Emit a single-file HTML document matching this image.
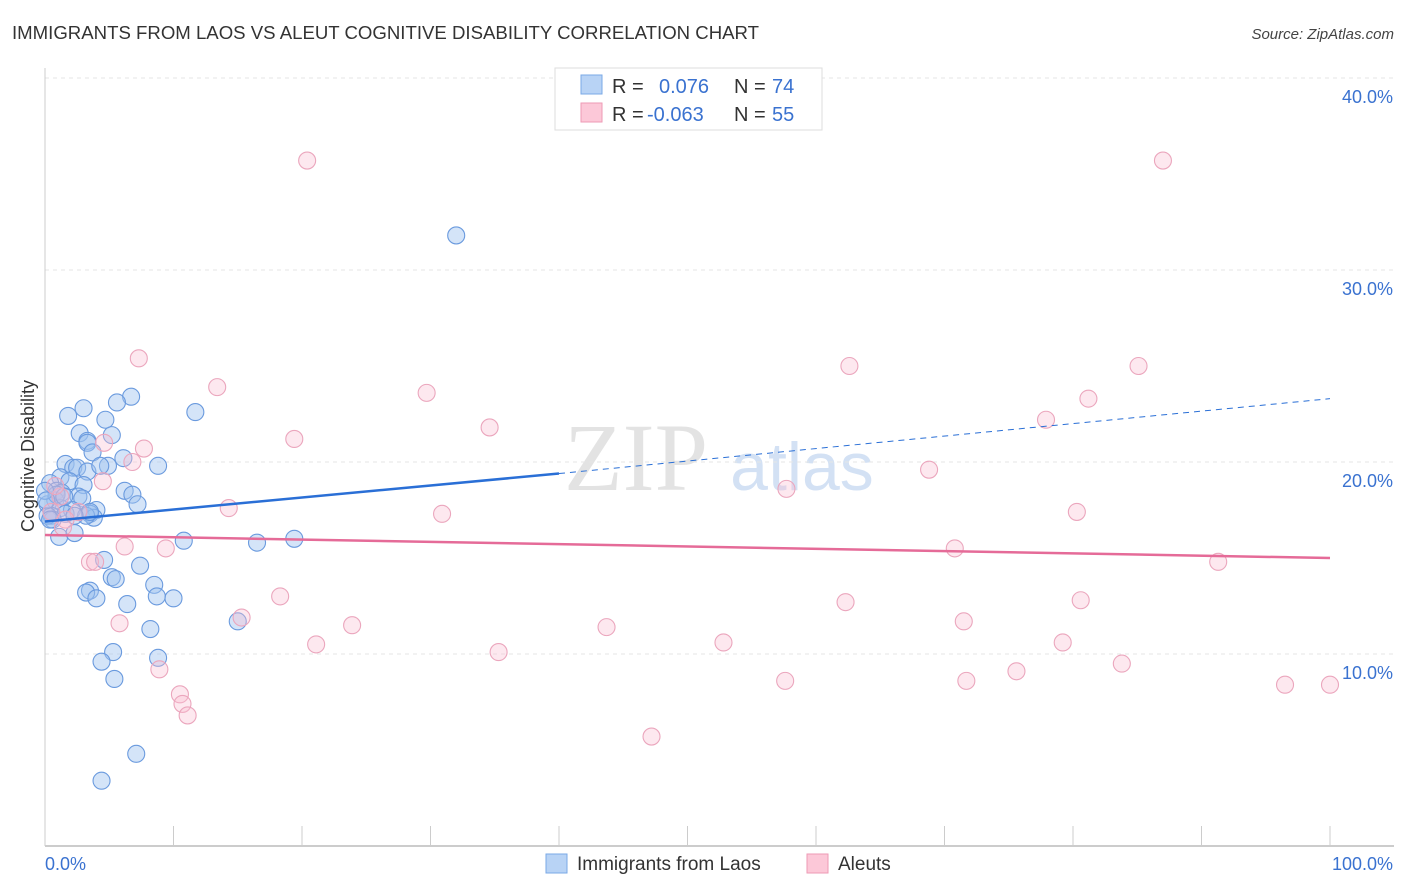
<!DOCTYPE html>
<html><head><meta charset="utf-8"><style>
body{margin:0;background:#fff;font-family:"Liberation Sans",sans-serif}
svg{display:block}
</style></head><body>
<svg id="chart" width="1406" height="892" xmlns="http://www.w3.org/2000/svg">
<text x="12" y="39" font-size="18" fill="#333" textLength="747" lengthAdjust="spacingAndGlyphs">IMMIGRANTS FROM LAOS VS ALEUT COGNITIVE DISABILITY CORRELATION CHART</text>
<text x="1394" y="39" font-size="15" fill="#444" font-style="italic" text-anchor="end">Source: ZipAtlas.com</text>
<text transform="translate(34,456) rotate(-90)" font-size="18" fill="#333" text-anchor="middle">Cognitive Disability</text>
<g>
<text x="636" y="490" font-size="96" fill="#ddd" font-family="Liberation Serif" text-anchor="middle" opacity="0.8">ZIP</text>
<text x="802" y="490" font-size="68" fill="#c9daf2" text-anchor="middle" opacity="0.8">atlas</text>
</g>
<g id="grid"></g><g id="axes"></g><g id="pts"></g><g id="lines"></g>
<g>
<rect x="555" y="68" width="267" height="62" fill="#fff" stroke="#ddd"/>
<rect x="581" y="75" width="21" height="19" fill="#b8d3f5" stroke="#7aa8e6"/>
<rect x="581" y="103" width="21" height="19" fill="#fcc8d8" stroke="#ee9ab5"/>
<text x="612" y="93" font-size="20" fill="#333">R =</text>
<text x="659" y="93" font-size="20" fill="#3a72d0">0.076</text>
<text x="734" y="93" font-size="20" fill="#333">N =</text>
<text x="772" y="93" font-size="20" fill="#3a72d0">74</text>
<text x="612" y="121" font-size="20" fill="#333">R =</text>
<text x="647" y="121" font-size="20" fill="#3a72d0">-0.063</text>
<text x="734" y="121" font-size="20" fill="#333">N =</text>
<text x="772" y="121" font-size="20" fill="#3a72d0">55</text>
</g>
<g>
<rect x="546" y="854" width="21" height="19" fill="#b8d3f5" stroke="#7aa8e6"/>
<text x="577" y="870" font-size="19" fill="#333">Immigrants from Laos</text>
<rect x="807" y="854" width="21" height="19" fill="#fcc8d8" stroke="#ee9ab5"/>
<text x="838" y="870" font-size="19" fill="#333">Aleuts</text>
</g>
</svg>
<script>
const blueX=[32.0,11.7,6.7,5.6,3.0,1.8,4.7,2.7,5.2,3.3,3.3,3.7,1.6,2.2,2.5,6.1,4.9,8.8,3.3,1.2,1.9,3.0,0.4,0.9,1.3,6.2,6.8,2.6,2.9,7.2,0.8,0.2,1.2,2.1,4.0,3.5,3.8,0.5,1.6,0.6,3.2,10.8,16.5,19.4,1.1,2.3,4.6,7.4,5.2,5.5,8.5,3.5,3.2,4.0,6.4,8.7,10.0,8.2,15.0,5.3,4.4,8.8,5.4,7.1,4.4,0.2,0.4,0.9,1.5,4.3,3.5,2.3,0.0,0.1];
const blueY=[31.8,22.6,23.4,23.1,22.8,22.4,22.2,21.5,21.4,21.1,21.0,20.5,19.9,19.7,19.7,20.2,19.8,19.8,19.5,19.2,19.0,18.8,18.9,18.5,18.4,18.5,18.3,18.2,18.1,17.8,18.0,17.8,17.6,17.5,17.5,17.3,17.1,17.2,17.3,17.0,17.2,15.9,15.8,16.0,16.1,16.3,14.9,14.6,14.0,13.9,13.6,13.3,13.2,12.9,12.6,13.0,12.9,11.3,11.7,10.1,9.6,9.8,8.7,4.8,3.4,17.2,17.0,18.3,18.2,19.8,17.4,17.2,18.5,18.0];
const pinkX=[20.4,87.0,7.3,62.6,85.1,13.4,29.7,81.2,34.6,77.9,19.4,4.6,7.7,6.8,68.8,57.7,4.5,1.2,14.3,30.9,80.3,0.5,2.6,1.6,1.4,6.2,9.4,70.8,3.5,3.9,91.3,18.3,62.3,80.6,5.8,15.3,23.9,43.7,71.5,21.1,52.8,79.2,35.3,8.9,83.8,75.6,57.6,71.7,10.5,10.7,11.1,47.2,96.5,100.0,0.8];
const pinkY=[35.7,35.7,25.4,25.0,25.0,23.9,23.6,23.3,21.8,22.2,21.2,21.0,20.7,20.0,19.6,18.6,19.0,18.2,17.6,17.3,17.4,17.4,17.4,17.0,16.6,15.6,15.5,15.5,14.8,14.8,14.8,13.0,12.7,12.8,11.6,11.9,11.5,11.4,11.7,10.5,10.6,10.6,10.1,9.2,9.5,9.1,8.6,8.6,7.9,7.4,6.8,5.7,8.4,8.4,18.75];
const blueTrend=[16.9,19.4,23.3]; // y at x=0, 40 (solid end), 100
const pinkTrend=[16.2,15.0];
const yTicks=[10,20,30,40];
const yTickLabels=["10.0%","20.0%","30.0%","40.0%"];
const xTicks=[0,10,20,30,40,50,60,70,80,90,100];
const NS="http://www.w3.org/2000/svg";
const X=v=>45+v*12.85, Y=v=>846-v*19.2;
function mk(p,tag,at){const e=document.createElementNS(NS,tag);for(const k in at)e.setAttribute(k,at[k]);document.getElementById(p).appendChild(e);return e;}
yTicks.forEach((t,i)=>{
 let l=mk('grid','line',{x1:45,x2:1394,y1:Y(t),y2:Y(t),stroke:'#e6e6e6','stroke-dasharray':'4,4'});
 
 
 let tx=mk('grid','text',{x:1393,y:Y(t)+25,'font-size':18,fill:'#3a72d0','text-anchor':'end'});tx.textContent=yTickLabels[i];
 
 
});
let ax=mk('axes','line',{x1:45,x2:1394,y1:846,y2:846,stroke:'#bbb','stroke-width':1.5});


let ay=mk('axes','line',{x1:45,x2:45,y1:68,y2:846,stroke:'#ccc'});


xTicks.forEach(t=>{let k=mk('axes','line',{x1:X(t),x2:X(t),y1:826,y2:846,stroke:'#ccc'});
 
 });
let x0=mk('axes','text',{x:45,y:870,'font-size':18,fill:'#3a72d0'});x0.textContent="0.0%";


let x1=mk('axes','text',{x:1393,y:870,'font-size':18,fill:'#3a72d0','text-anchor':'end'});x1.textContent="100.0%";


blueX.forEach((v,i)=>{let c=mk('pts','circle',{cx:X(v),cy:Y(blueY[i]),r:8.5,fill:'rgba(160,196,240,0.45)',stroke:'#6a9ade','stroke-width':1.1});
 
 });
pinkX.forEach((v,i)=>{let c=mk('pts','circle',{cx:X(v),cy:Y(pinkY[i]),r:8.5,fill:'rgba(248,190,210,0.35)',stroke:'#eba6bd','stroke-width':1.1});
 
 });
let b1=mk('lines','line',{x1:X(0),y1:Y(blueTrend[0]),x2:X(40),y2:Y(blueTrend[1]),stroke:'#2a6fd6','stroke-width':2.5});


let b2=mk('lines','line',{x1:X(40),y1:Y(blueTrend[1]),x2:X(100),y2:Y(blueTrend[2]),stroke:'#2a6fd6','stroke-width':1,'stroke-dasharray':'6,5'});


let p1=mk('lines','line',{x1:X(0),y1:Y(pinkTrend[0]),x2:X(100),y2:Y(pinkTrend[1]),stroke:'#e56b98','stroke-width':2.5});


</script>
</body></html>
